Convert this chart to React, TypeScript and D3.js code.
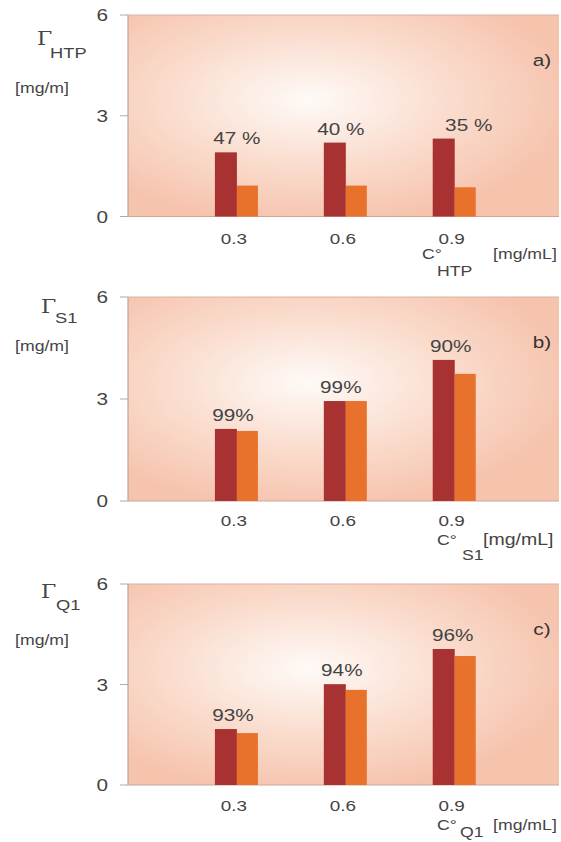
import React from "react";
import * as d3 from "d3";

const concentrations = [0.3, 0.6, 0.9];
const xTickLabels = ["0.3", "0.6", "0.9"];
const yTicks = [0, 3, 6];

const htpInitial = [1.91, 2.2, 2.32];
const htpRetained = [0.92, 0.92, 0.87];
const htpPercent = ["47 %", "40 %", "35 %"];

const s1Initial = [2.12, 2.94, 4.15];
const s1Retained = [2.06, 2.94, 3.74];
const s1Percent = ["99%", "99%", "90%"];

const q1Initial = [1.67, 3.01, 4.06];
const q1Retained = [1.55, 2.84, 3.85];
const q1Percent = ["93%", "94%", "96%"];

const panelLetters = ["a)", "b)", "c)"];
const compounds = ["HTP", "S1", "Q1"];

const DARK = "#a83131";
const ORANGE = "#e8722c";
const TXT = "#444";
const FONT = "'Liberation Sans', Arial, sans-serif";
const SX = 1.22;

const panels = [
  { initial: htpInitial, retained: htpRetained, pct: htpPercent, top: 15, zero: 216.5, labelDx: [0, -5, 14],
    gamma: [37, 45], sub: [50, 58], unit: 93, cx: [422, 437, 493], cy: [259, 276], unitSize: 14.5, tickDy: 27 },
  { initial: s1Initial, retained: s1Retained, pct: s1Percent, top: 297, zero: 501, labelDx: [-4, -5, -4],
    gamma: [41, 313], sub: [55, 323], unit: 351, cx: [437, 462, 483], cy: [545, 560], unitSize: 16, tickDy: 25 },
  { initial: q1Initial, retained: q1Retained, pct: q1Percent, top: 584, zero: 785, labelDx: [-4, -4, -2],
    gamma: [41, 598], sub: [56, 610], unit: 645, cx: [437, 460, 493], cy: [830, 837], unitSize: 14.5, tickDy: 26 },
];

function T({ x, y, size, children, anchor = "start", fill = TXT, family = FONT }: any) {
  return (
    <text
      transform={`translate(${x},${y}) scale(${SX},1)`}
      fontSize={size}
      textAnchor={anchor}
      fill={fill}
      fontFamily={family}
    >
      {children}
    </text>
  );
}

export default function App() {
  const W = 561, H = 842;
  const x = d3.scaleLinear().domain([0, 1.19]).range([128, 560]);
  const barW = 22;
  return (
    <svg width={W} height={H} style={{ position: "absolute", left: 0, top: 0, background: "#fff" }}>
      <defs>
        <radialGradient id="bg" cx="0.42" cy="0.42" r="0.62">
          <stop offset="0" stopColor="#fefaf7" />
          <stop offset="0.55" stopColor="#fadbcc" />
          <stop offset="1" stopColor="#f6c3ad" />
        </radialGradient>
      </defs>
      {panels.map((p, pi) => {
        const y = d3.scaleLinear().domain([0, 6]).range([p.zero, p.top]);
        return (
          <g key={pi}>
            <rect x={x(0)} y={p.top} width={x(1.19) - x(0) - 1} height={p.zero - p.top} fill="url(#bg)" />
            <line x1={x(0)} x2={x(1.19) - 1} y1={p.top} y2={p.top} stroke="#d9b3a3" strokeWidth={1.2} />
            <line x1={x(0)} x2={x(0)} y1={p.top} y2={p.zero} stroke="#b9a49b" strokeWidth={1.2} />
            <line x1={x(0)} x2={x(1.19) - 1} y1={p.zero} y2={p.zero} stroke="#c9a89a" strokeWidth={1.2} />
            {yTicks.map((t) => (
              <g key={t}>
                <line x1={120} x2={x(0)} y1={y(t)} y2={y(t)} stroke="#aaa" strokeWidth={1} />
                <T x={108} y={y(t) + 6} size={17} anchor="end">{t}</T>
              </g>
            ))}
            {concentrations.map((c, i) => (
              <g key={c}>
                <rect x={x(c) - barW} y={y(p.initial[i])} width={barW} height={p.zero - y(p.initial[i])} fill={DARK} />
                <rect x={x(c)} y={y(p.retained[i])} width={barW - 1} height={p.zero - y(p.retained[i])} fill={ORANGE} />
                <T x={x(c) + p.labelDx[i]} y={y(p.initial[i]) - 8} size={17} anchor="middle">{p.pct[i]}</T>
                <T x={x(c) - 3} y={p.zero + p.tickDy} size={15.5} anchor="middle">{xTickLabels[i]}</T>
              </g>
            ))}
            <T x={542} y={p.top + 51} size={17} anchor="middle" fill="#333">{panelLetters[pi]}</T>
            <T x={p.gamma[0]} y={p.gamma[1]} size={18} family="'DejaVu Serif', serif">Γ</T>
            <T x={p.sub[0]} y={p.sub[1]} size={15}>{compounds[pi]}</T>
            <T x={15} y={p.unit} size={14.5}>[mg/m]</T>
            <T x={p.cx[0]} y={p.cy[0]} size={14.5}>C°</T>
            <T x={p.cx[1]} y={p.cy[1]} size={14.5}>{compounds[pi]}</T>
            <T x={p.cx[2]} y={p.cy[0]} size={p.unitSize}>[mg/mL]</T>
          </g>
        );
      })}
    </svg>
  );
}
